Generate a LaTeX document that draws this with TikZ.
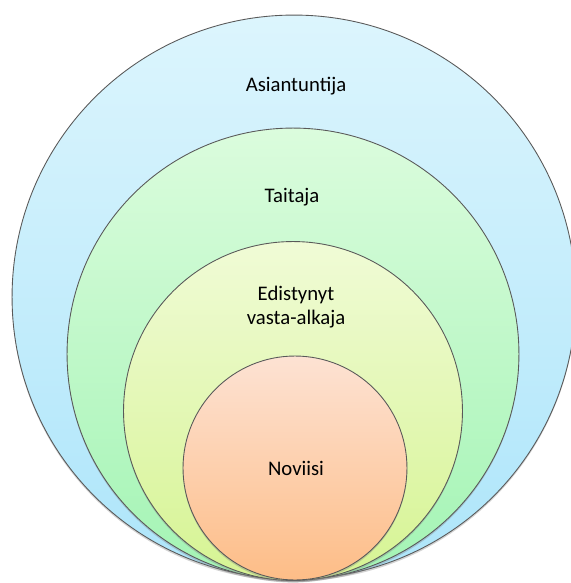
\documentclass[tikz,border=0pt]{standalone}
\usepackage{fontspec}
\setmainfont{Carlito}
\usetikzlibrary{shadows}
\definecolor{blueTop}{HTML}{DCF5FD}
\definecolor{blueBot}{HTML}{ADE5FA}
\definecolor{greenTop}{HTML}{DBFCDD}
\definecolor{greenBot}{HTML}{A3F4B4}
\definecolor{limeTop}{HTML}{F0FBD6}
\definecolor{limeBot}{HTML}{D6F493}
\definecolor{peachTop}{HTML}{FDE2D3}
\definecolor{peachBot}{HTML}{FDBD87}
\tikzset{ring/.style={circle, draw=black!65, line width=0.5pt, inner sep=0pt,
    drop shadow={opacity=0.35, shadow xshift=0pt, shadow yshift=-1.2pt}},
  label/.style={font=\fontsize{11.8}{13.5}\selectfont, align=center, inner sep=1pt}}

\begin{document}
\begin{tikzpicture}[x=0.02cm,y=-0.02cm]
  \useasboundingbox (0,0) rectangle (571,583);
  \begin{scope}
   \node (asi) [ring, minimum size=11.28cm, top color=blueTop, bottom color=blueBot] at (294,297) {};
   \node (tai) [ring, minimum size=9.04cm, top color=greenTop, bottom color=greenBot] at (293,354) {};
   \node (edi) [ring, minimum size=6.78cm, top color=limeTop, bottom color=limeBot] at (293,411) {};
   \node (nov) [ring, minimum size=4.48cm, top color=peachTop, bottom color=peachBot] at (295,468) {};
  \end{scope}
  \node (asiText) [label] at (296,86) {Asiantuntija};
  \node (taiText) [label] at (292,197) {Taitaja};
  \node (ediText) [label] at (296,307) {Edistynyt\\vasta-alkaja};
  \node (novText) [label] at (296,468) {Noviisi};
 \end{tikzpicture}
\end{document}
